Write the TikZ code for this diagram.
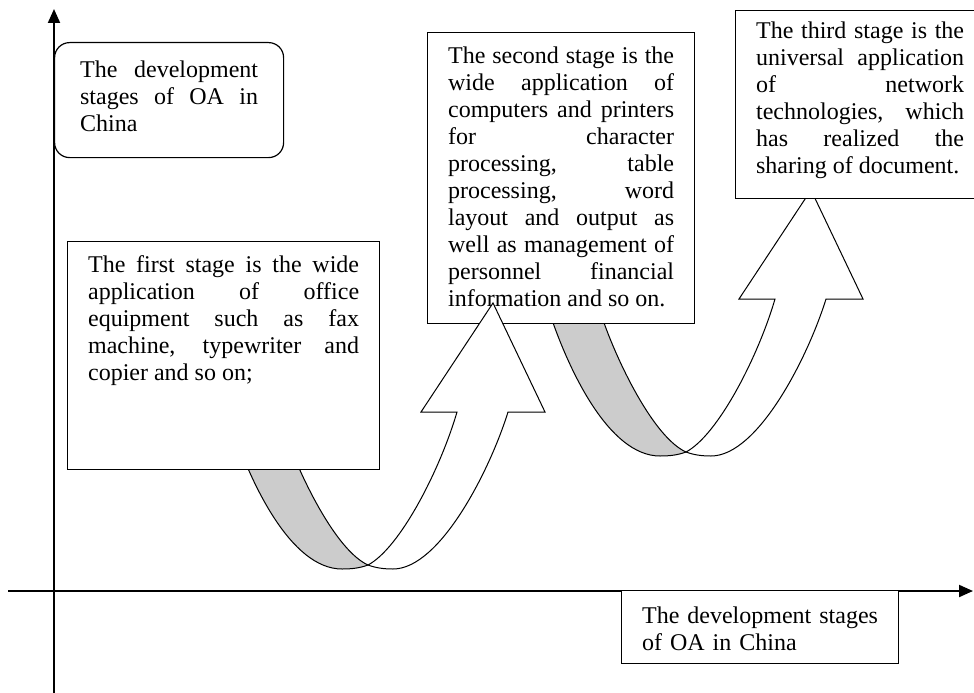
\documentclass[tikz,border=0pt]{standalone}
\usepackage{fontspec}
\setmainfont{Liberation Serif}
\usetikzlibrary{arrows.meta}
\definecolor{bandgray}{RGB}{204,204,204}
\tolerance=10000
\hyphenpenalty=10000
\hbadness=10000

\tikzset{
  axis/.style={line width=2pt, -{Triangle[length=14pt,width=12pt]}},
  stagebox/.style={draw, fill=white, line width=1.2pt, anchor=north west,
    inner xsep=20.5pt, inner ysep=0pt, align=justify,
    font=\fontsize{24}{27}\selectfont},
  ribbon/.style={draw, line width=1pt},
}

\newcommand{\stagearrow}[2]{%
  \begin{scope}[shift={(#1,#2)}]
    \filldraw[ribbon, fill=bandgray] (233,430) .. controls (250,480) and (290,569) .. (342,569)
      .. controls (352,569) and (360,568) .. (368,565)
      .. controls (335,550) and (298,472) .. (284,430) -- cycle;
    \filldraw[ribbon, fill=white] (368,565) .. controls (376,568) and (384,569) .. (393,569)
      .. controls (440,569) and (490,470) .. (508,412)
      -- (545,412) -- (493,303) -- (421,412) -- (457,412)
      .. controls (440,470) and (400,548) .. cycle;
  \end{scope}}

\begin{document}
\begin{tikzpicture}[x=1pt, y=-1pt]
    \useasboundingbox (0,0) rectangle (974,693);
    \clip (0,0) rectangle (974,693);
    \coordinate (xstart) at (8,591);
    \coordinate (xend) at (973,591);
    \coordinate (ystart) at (54,693);
    \coordinate (yend) at (54,9);
    \draw[axis] (xstart) -- (xend);
    \draw[axis] (ystart) -- (yend);

    \stagearrow{318}{-113}
    \node[stagebox, text width=226pt, text height=31pt, text depth=260pt] (second) at (427,32)
      {The second stage is the\linebreak wide application of\linebreak computers and printers\linebreak
       for character\linebreak processing, table\linebreak processing, word\linebreak
       layout and output as\linebreak well as management of\linebreak personnel financial\linebreak
       information and so on.};
    \node[stagebox, text width=208pt, text height=28pt, text depth=160pt] (third) at (735,10)
      {The third stage is the\linebreak universal application\linebreak of network\linebreak
       technologies, which\linebreak has realized the\linebreak sharing of document.};

    \stagearrow{0}{0}
    \node[stagebox, text width=271pt, text height=31pt, text depth=197pt] (first) at (67,241)
      {The first stage is the wide\linebreak application of office\linebreak equipment such as fax\linebreak
       machine, typewriter and\linebreak copier and so on;};

    \node[stagebox, rounded corners=15pt, inner xsep=25.5pt, text width=178pt,
      text height=35pt, text depth=80pt] (title) at (54,42)
      {The development\linebreak stages of OA in\linebreak China};
    \node[stagebox, align=left, text width=236pt, text height=33pt, text depth=40pt] (xlabel) at (621,590)
      {The development stages\\ of OA in China};
\end{tikzpicture}
\end{document}
